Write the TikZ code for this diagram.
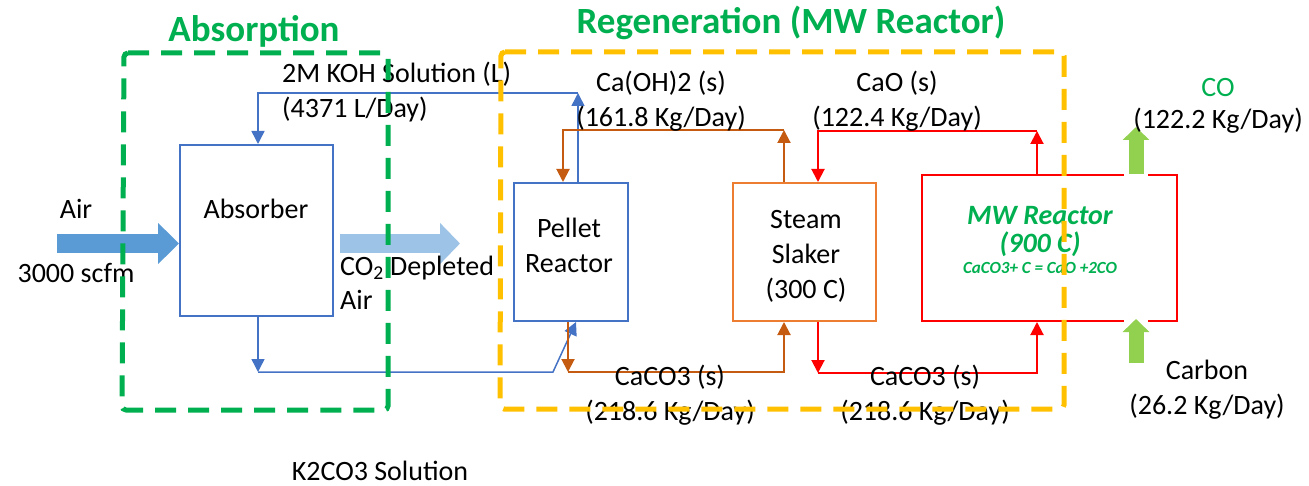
\documentclass[tikz,border=0pt]{standalone}
\usepackage{fontspec}
\setmainfont{Carlito}
\usetikzlibrary{arrows.meta,calc}
\definecolor{gtitle}{HTML}{00B050}
\definecolor{bbox}{HTML}{4472C4}
\definecolor{obox}{HTML}{ED7D31}
\definecolor{oline}{HTML}{C55A11}
\definecolor{rline}{HTML}{FF0000}
\definecolor{ydash}{HTML}{FFC000}
\definecolor{airblue}{HTML}{5B9BD5}
\definecolor{ltblue}{HTML}{9DC3E6}
\definecolor{lgreen}{HTML}{92D050}
\begin{document}
\begin{tikzpicture}[x=1pt,y=-1pt,
  txt/.style={font=\fontsize{28}{35}\selectfont, inner sep=0pt, align=center},
  title/.style={font=\fontsize{37}{40}\selectfont\bfseries, text=gtitle, inner sep=0pt},
  unit/.style={draw, line width=2pt, minimum width=#1, inner sep=0pt},
  arr/.style={-{Triangle[length=13pt,width=13pt]}},
  bl/.style={bbox, line width=1.5pt},
  ol/.style={oline, line width=2pt},
  rl/.style={rline, line width=2pt},
  zone/.style={line width=5pt, dash pattern=on 21pt off 12pt, rounded corners=4pt},
]
\useasboundingbox (0,0) rectangle (1309,486);

% units
\node[unit=153pt, bbox, minimum height=171pt] (absorber) at (256.5,230.5) {};
\node[unit=114pt, bbox, minimum height=138pt] (pellet) at (571,252) {};
\node[unit=143pt, obox, minimum height=138pt] (slaker) at (804.5,252) {};
\node[unit=255pt, rline, minimum height=146pt] (mw) at (1049.5,248) {};

\node[txt] (tabs) at (256,209) {Absorber};
\node[txt] (tpel) at (569,245) {Pellet\\Reactor};
\node[txt] (tsla) at (806,256) {Steam\\Slaker\\(300 C)};
\node[txt, text=gtitle, font=\fontsize{28}{29}\selectfont\bfseries\itshape] (tmw1) at (1040,216) {MW Reactor};
\node[txt, text=gtitle, font=\fontsize{28}{29}\selectfont\bfseries\itshape] (tmw2) at (1040,244) {(900 C)};
\node[txt, text=gtitle, font=\fontsize{17}{18}\selectfont\bfseries\itshape] (tmw3) at (1040,268) {CaCO3+ C = CaO +2CO};

% titles
\node[title] (tA) at (254,31) {Absorption};
\node[title] (tR) at (791,23) {Regeneration (MW Reactor)};

% big arrows
\coordinate (airS) at (57,243.5);
\draw[airblue, line width=19pt, -{Triangle[length=21pt,width=40pt]}] (airS) -- (absorber.west |- airS);
\coordinate (depS) at (340,243.5);
\coordinate (depE) at (460,243.5);
\draw[ltblue, line width=19pt, -{Triangle[length=20pt,width=40pt]}] (depS) -- (depE);

% KOH loop
\coordinate (k1) at (578,93);
\coordinate (k2) at (258,93);
\draw[bl, arr] (pellet.north -| k1) -- (k1);
\draw[bl, arr] (k1) -- (k2) -- (absorber.north -| k2);
\coordinate (a1) at (258,372);
\coordinate (a2) at (553,372);
\coordinate (p1) at ($(pellet.south)+(5,0)$);
\draw[bl, arr] (absorber.south -| a1) -- (a1);
\draw[bl, arr] (a1) -- (a2) -- (p1);

% Ca(OH)2 loop
\coordinate (c1) at (784,130);
\coordinate (c2) at (563,130);
\draw[ol, arr] (slaker.north -| c1) -- (c1);
\draw[ol, arr] (c1) -- (c2) -- (pellet.north -| c2);
\coordinate (o1) at (568,372);
\coordinate (o2) at (784,372);
\draw[ol, arr] (pellet.south -| o1) -- (o1);
\draw[ol, arr] (o1) -- (o2) -- (slaker.south -| o2);

% CaO / CaCO3 loop
\coordinate (r1) at (1037,131);
\coordinate (r2) at (818,131);
\draw[rl, arr] (mw.north -| r1) -- (r1);
\draw[rl, arr] (r1) -- (r2) -- (slaker.north -| r2);
\coordinate (r3) at (818,373);
\coordinate (r4) at (1037,373);
\draw[rl, arr] (slaker.south -| r3) -- (r3);
\draw[rl, arr] (r3) -- (r4) -- (mw.south -| r4);

% CO and carbon arrows
\coordinate (coE) at (1136,127);
\coordinate (caS) at (1136,363);
\fill[white] (1124,171) rectangle (1148,177);
\fill[white] (1124,319) rectangle (1148,324);
\draw[lgreen, line width=15pt, -{Triangle[length=13pt,width=26pt]}] (mw.north -| coE) -- (coE);
\draw[lgreen, line width=15pt, -{Triangle[length=13pt,width=26pt]}] (caS) -- ($(mw.south -| caS)+(0,-3)$);

% labels
\node[txt] (lair1) at (76,209) {Air};
\node[txt] (lair2) at (76,273) {3000 scfm};
\node[txt, anchor=west] (ldep1) at (340,268) {CO\textsubscript{2} Depleted};
\node[txt, anchor=west] (ldep2) at (340,300) {Air};
\node[txt, anchor=west, align=left] (lkoh) at (282,92) {2M KOH Solution (L)\\(4371 L/Day)};
\node[txt] (lcaoh) at (661,101) {Ca(OH)2 (s)\\(161.8 Kg/Day)};
\node[txt] (lcao) at (897,101) {CaO (s)\\(122.4 Kg/Day)};
\node[txt] (lcc1) at (670,395) {CaCO3 (s)\\(218.6 Kg/Day)};
\node[txt] (lcc2) at (925,395) {CaCO3 (s)\\(218.6 Kg/Day)};
\node[txt, text=gtitle] (lco1) at (1218,88) {CO};
\node[txt] (lco2) at (1218,121) {(122.2 Kg/Day)};
\node[txt] (lcarb) at (1207,390) {Carbon\\(26.2 Kg/Day)};
\node[txt] (lk2) at (380,471) {K2CO3 Solution};

% zones
\draw[zone, gtitle] (124,53) -- (388,53) -- (388,410) -- (122,410) -- cycle;
\draw[zone, ydash] (501,52) -- (1064,52) -- (1064,409) -- (500,409) -- cycle;
\end{tikzpicture}
\end{document}
